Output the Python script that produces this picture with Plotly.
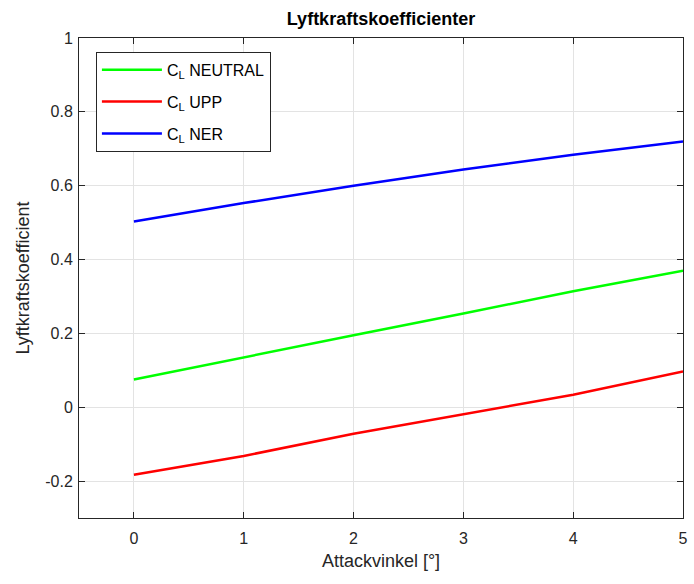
import plotly.graph_objects as go

alpha = [0, 1, 2, 3, 4, 5]
cl_neutral = [0.075, 0.136, 0.195, 0.254, 0.314, 0.370]
cl_upp = [-0.183, -0.132, -0.072, -0.018, 0.034, 0.097]
cl_ner = [0.503, 0.553, 0.600, 0.644, 0.684, 0.720]

names = ["C<sub>L</sub> NEUTRAL", "C<sub>L</sub> UPP", "C<sub>L</sub> NER"]
colors = ["#00ff00", "#ff0000", "#0000ff"]

fig = go.Figure()
for i, (y, n, c) in enumerate(zip([cl_neutral, cl_upp, cl_ner], names, colors)):
    fig.add_trace(go.Scatter(x=alpha, y=y, mode="lines", name=n, legendgroup=f"g{i}",
                             line=dict(color=c, width=2.5)))

font = "Liberation Sans, Arial, sans-serif"
fig.update_layout(
    width=694, height=584,
    margin=dict(l=79, r=6, t=38, b=66),
    paper_bgcolor="white", plot_bgcolor="white",
    font=dict(family=font, size=16, color="#262626"),
    title=dict(text="<b>Lyftkraftskoefficienter</b>", x=0.5, xref="paper", xanchor="center",
               y=0.968, yanchor="middle", font=dict(size=18, color="black")),
    showlegend=True,
    legend=dict(x=0.028, y=0.971, xanchor="left", yanchor="top",
                bgcolor="white", bordercolor="#262626", borderwidth=1,
                font=dict(size=16, color="black"), tracegroupgap=8,
                itemwidth=60),
    xaxis=dict(range=[-0.5, 5], tickvals=[0, 1, 2, 3, 4, 5],
               showgrid=True, gridcolor="#e3e3e3", zeroline=False,
               showline=True, linecolor="#262626", linewidth=1, mirror="ticks",
               ticks="inside", ticklen=6, tickcolor="#262626", ticklabelstandoff=6,
               tickfont=dict(size=16),
               title=dict(text="Attackvinkel [°]", font=dict(size=18), standoff=8)),
    yaxis=dict(range=[-0.3, 1], tickvals=[-0.2, 0, 0.2, 0.4, 0.6, 0.8, 1],
               ticktext=["-0.2", "0", "0.2", "0.4", "0.6", "0.8", "1"],
               showgrid=True, gridcolor="#e3e3e3", zeroline=False,
               showline=True, linecolor="#262626", linewidth=1, mirror="ticks",
               ticks="inside", ticklen=6, tickcolor="#262626", ticklabelstandoff=2,
               tickfont=dict(size=16),
               title=dict(text="Lyftkraftskoefficient", font=dict(size=18), standoff=10)),
)
fig.write_html("out.html")
